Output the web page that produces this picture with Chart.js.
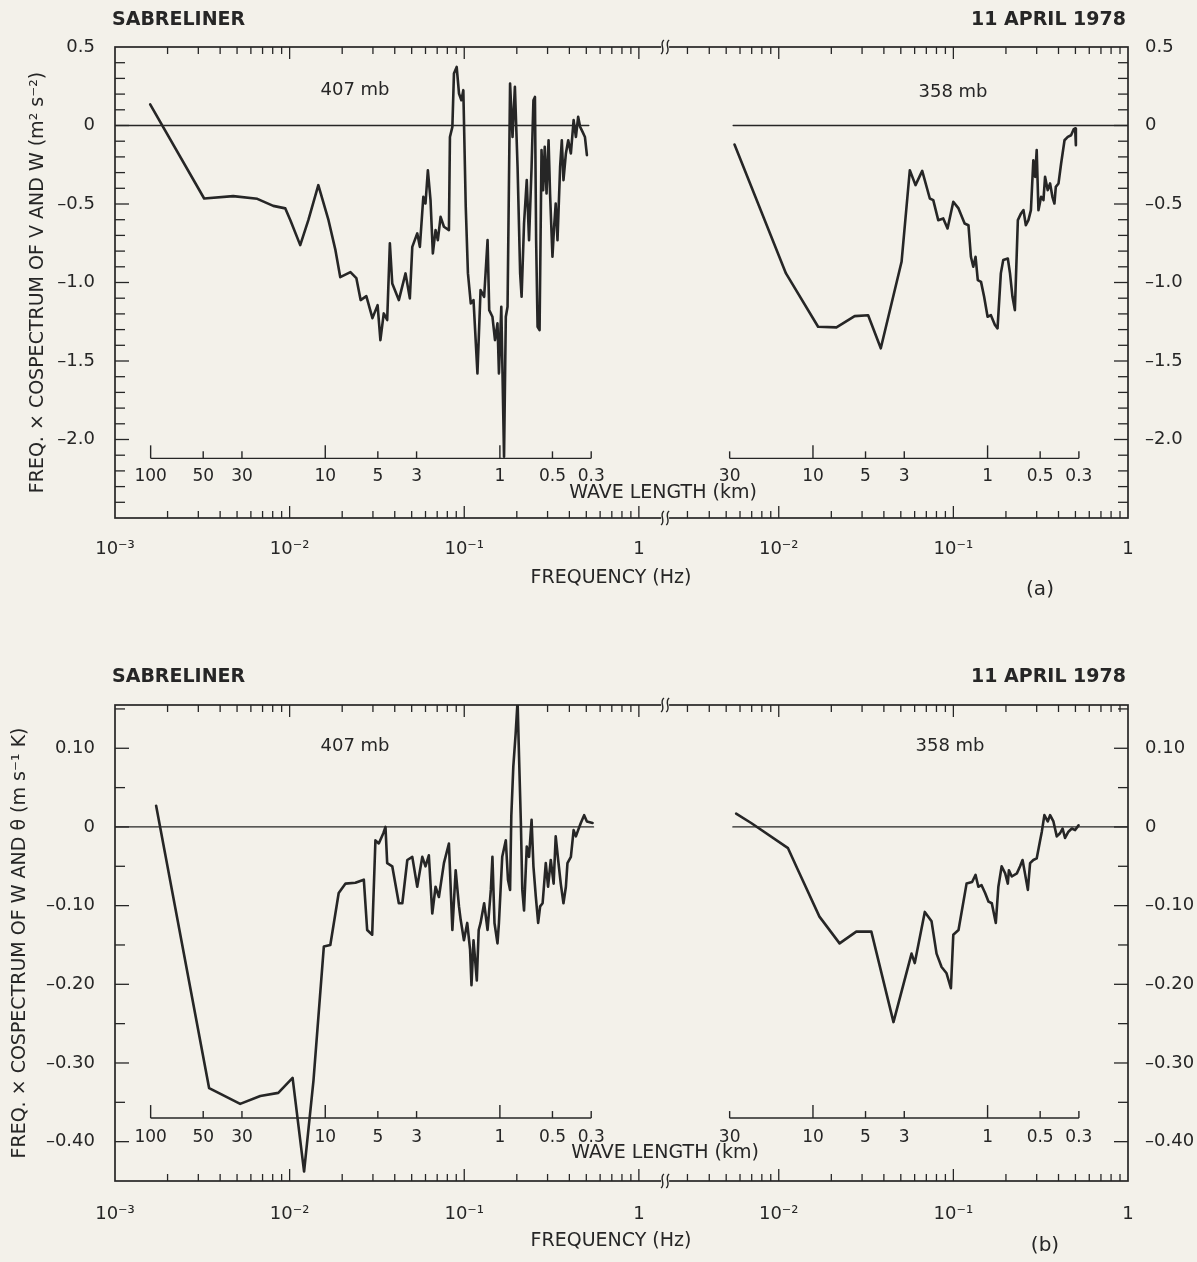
<!DOCTYPE html>
<html><head><meta charset="utf-8">
<script src="https://cdn.jsdelivr.net/npm/chart.js@4.4.1/dist/chart.umd.min.js"></script>
<style>
html,body{margin:0;padding:0;background:#f3f1ea;}
#wrap{position:relative;width:1197px;height:1262px;overflow:hidden;}
canvas{position:absolute;left:0;}
#ca{top:0}#cb{top:631px}
</style></head><body>
<div id="wrap"><canvas id="ca" width="1197" height="631"></canvas><canvas id="cb" width="1197" height="631"></canvas></div>
<script>
// ---------- DATA ----------
// Panel (a): cospectrum of V and W, 407 mb (left) and 358 mb (right); x = frequency (Hz)
const freqA407 = [0.00159,0.00324,0.00475,0.00653,0.00806,0.00945,0.0101,0.0115,0.0128,0.0146,0.0167,0.0183,0.0195,0.0223,0.0241,0.0255,0.0275,0.0298,0.0319,0.0331,0.0346,0.0362,0.0375,0.0387,0.0422,0.0461,0.0488,0.0504,0.0538,0.0557,0.0583,0.0600,0.0619,0.0641,0.0661,0.0685,0.0706,0.0732,0.0765,0.0817,0.0828,0.0855,0.0873,0.0905,0.0933,0.0963,0.0988,0.102,0.105,0.109,0.113,0.119,0.124,0.130,0.136,0.139,0.145,0.150,0.155,0.158,0.163,0.169,0.173,0.177,0.183,0.189,0.195,0.202,0.209,0.213,0.220,0.228,0.235,0.243,0.249,0.254,0.258,0.263,0.270,0.277,0.283,0.289,0.296,0.304,0.310,0.320,0.327,0.334,0.342,0.354,0.362,0.370,0.382,0.394,0.408,0.423,0.436,0.449,0.461,0.476,0.491,0.504];
const valA407 = [0.134,-0.465,-0.450,-0.467,-0.512,-0.528,-0.603,-0.762,-0.603,-0.380,-0.603,-0.794,-0.966,-0.934,-0.972,-1.112,-1.087,-1.227,-1.144,-1.367,-1.197,-1.239,-0.751,-1.006,-1.112,-0.942,-1.101,-0.773,-0.687,-0.773,-0.454,-0.497,-0.285,-0.475,-0.815,-0.666,-0.730,-0.582,-0.645,-0.666,-0.073,-0.009,0.331,0.373,0.204,0.161,0.225,-0.518,-0.942,-1.133,-1.112,-1.579,-1.048,-1.091,-0.730,-1.176,-1.218,-1.367,-1.260,-1.579,-1.155,-2.110,-1.218,-1.155,0.267,-0.073,0.246,-0.264,-0.942,-1.091,-0.624,-0.348,-0.730,-0.264,0.161,0.182,-0.730,-1.282,-1.303,-0.157,-0.412,-0.136,-0.433,-0.094,-0.433,-0.836,-0.645,-0.497,-0.730,-0.264,-0.094,-0.348,-0.178,-0.094,-0.178,0.034,-0.073,0.055,-0.009,-0.041,-0.073,-0.189];
const freqA358 = [0.00558,0.0110,0.0168,0.0214,0.0272,0.0325,0.0384,0.0505,0.0563,0.0607,0.0663,0.0733,0.0767,0.0819,0.0875,0.0926,0.0999,0.107,0.116,0.122,0.126,0.130,0.134,0.138,0.144,0.150,0.157,0.164,0.173,0.179,0.187,0.193,0.205,0.211,0.218,0.225,0.234,0.244,0.252,0.260,0.269,0.278,0.287,0.294,0.300,0.307,0.318,0.328,0.335,0.347,0.358,0.369,0.379,0.386,0.400,0.414,0.433,0.452,0.472,0.488,0.498,0.503];
const valA358 = [-0.121,-0.942,-1.282,-1.286,-1.214,-1.209,-1.419,-0.868,-0.285,-0.380,-0.289,-0.465,-0.475,-0.603,-0.592,-0.656,-0.486,-0.528,-0.624,-0.635,-0.836,-0.900,-0.836,-0.985,-0.996,-1.091,-1.218,-1.208,-1.271,-1.292,-0.942,-0.857,-0.847,-0.942,-1.091,-1.176,-0.603,-0.560,-0.539,-0.635,-0.603,-0.539,-0.221,-0.327,-0.157,-0.539,-0.454,-0.475,-0.327,-0.412,-0.369,-0.454,-0.497,-0.391,-0.369,-0.242,-0.094,-0.073,-0.062,-0.025,-0.019,-0.125];
// Panel (b): cospectrum of W and theta
const freqB407 = [0.00172,0.00346,0.00521,0.00679,0.00861,0.0104,0.0121,0.0137,0.0157,0.0171,0.0191,0.0209,0.0238,0.0266,0.0278,0.0297,0.0310,0.0324,0.0344,0.0354,0.0362,0.0387,0.0422,0.0442,0.0472,0.0504,0.0538,0.0575,0.0600,0.0627,0.0656,0.0685,0.0716,0.0765,0.0817,0.0855,0.0893,0.0933,0.0954,0.0996,0.104,0.108,0.110,0.113,0.118,0.121,0.124,0.130,0.136,0.142,0.145,0.149,0.155,0.158,0.165,0.173,0.178,0.183,0.186,0.191,0.197,0.202,0.206,0.211,0.215,0.220,0.228,0.235,0.243,0.249,0.257,0.265,0.272,0.281,0.293,0.302,0.313,0.325,0.334,0.345,0.357,0.370,0.382,0.390,0.408,0.423,0.436,0.449,0.465,0.486,0.504,0.543];
const valB407 = [0.027,-0.332,-0.352,-0.342,-0.338,-0.319,-0.438,-0.322,-0.152,-0.150,-0.084,-0.072,-0.071,-0.067,-0.131,-0.137,-0.017,-0.021,-0.008,0.000,-0.046,-0.050,-0.097,-0.097,-0.042,-0.038,-0.076,-0.038,-0.050,-0.036,-0.110,-0.076,-0.089,-0.046,-0.021,-0.131,-0.055,-0.101,-0.118,-0.144,-0.122,-0.156,-0.201,-0.144,-0.195,-0.131,-0.122,-0.097,-0.131,-0.080,-0.038,-0.122,-0.148,-0.122,-0.038,-0.017,-0.067,-0.080,0.014,0.077,0.119,0.160,0.089,0.005,-0.080,-0.106,-0.025,-0.038,0.009,-0.050,-0.089,-0.122,-0.101,-0.097,-0.046,-0.076,-0.042,-0.072,-0.012,-0.042,-0.072,-0.097,-0.076,-0.046,-0.038,-0.004,-0.012,-0.004,0.005,0.015,0.007,0.005];
const freqB358 = [0.00570,0.00695,0.0113,0.0129,0.0171,0.0223,0.0278,0.0339,0.0454,0.0576,0.0601,0.0686,0.0750,0.0801,0.0856,0.0914,0.0968,0.0999,0.107,0.119,0.128,0.134,0.139,0.145,0.152,0.159,0.166,0.175,0.181,0.189,0.198,0.205,0.208,0.216,0.231,0.241,0.249,0.257,0.267,0.275,0.287,0.300,0.314,0.321,0.332,0.347,0.358,0.374,0.391,0.408,0.422,0.436,0.456,0.477,0.498,0.521];
const valB358 = [0.017,0.005,-0.027,-0.055,-0.114,-0.148,-0.133,-0.133,-0.248,-0.161,-0.173,-0.108,-0.120,-0.161,-0.178,-0.186,-0.205,-0.137,-0.131,-0.072,-0.070,-0.061,-0.076,-0.074,-0.084,-0.095,-0.097,-0.122,-0.076,-0.050,-0.059,-0.072,-0.055,-0.063,-0.059,-0.050,-0.042,-0.059,-0.080,-0.046,-0.042,-0.040,-0.017,-0.006,0.015,0.007,0.015,0.007,-0.012,-0.008,-0.002,-0.014,-0.006,-0.002,-0.004,0.002];
// zero reference lines (frequency extents)
const zeroA407 = [0.001, 0.517];
const zeroA358 = [0.00548, 1];
const zeroB407 = [0.001, 0.55];
const zeroB358 = [0.00546, 1];
// axis ranges and tick labels
const freqRange407 = [0.001, 1.413];
const freqRange358 = [0.002234, 1];
const freqTicks407 = [0.001, 0.01, 0.1, 1];
const freqTicks358 = [0.01, 0.1, 1];
const waveTicks407 = [100, 50, 30, 10, 5, 3, 1, 0.5, 0.3];
const waveTicks358 = [30, 10, 5, 3, 1, 0.5, 0.3];
const airspeed407 = 160; // m/s, converts wavelength to frequency
const airspeed358 = 157;
const yTicksA = [0.5, 0, -0.5, -1.0, -1.5, -2.0];
const yTicksB = [0.10, 0, -0.10, -0.20, -0.30, -0.40];

// ---------- DRAWING ----------
const INK = '#262626';
const BG = '#f3f1ea';
const FONT = '"DejaVu Sans", sans-serif';
const SUP = {'-':'\u207B','1':'\u00B9','2':'\u00B2','3':'\u00B3'};
function freqLabel(v){
  if (Math.abs(v - 1) < 1e-9) return '1';
  const e = Math.round(Math.log10(v));
  return '10' + String(e).split('').map(c => SUP[c]).join('');
}
const DASH = '\u2013';

const decor = {
  id: 'decor',
  afterDraw(chart) {
    const o = chart.options.plugins.decor;
    const {ctx, chartArea: ca, scales} = chart;
    const ys = scales.y;
    const seg = (x1,y1,x2,y2) => { ctx.beginPath(); ctx.moveTo(x1,y1); ctx.lineTo(x2,y2); ctx.stroke(); };
    ctx.save();
    ctx.strokeStyle = INK; ctx.fillStyle = INK;
    ctx.lineWidth = 1.7;
    ctx.strokeRect(ca.left, ca.top, ca.right - ca.left, ca.bottom - ca.top);
    ctx.lineWidth = 1.3;
    // log frequency ticks, inward, top and bottom
    ['xL','xR'].forEach(id => {
      const s = scales[id];
      for (let e = -3; e <= 0; e++) for (let m = 1; m <= 9; m++) {
        const x = s.getPixelForValue(m * Math.pow(10, e));
        if (x < s.left + 3 || x > s.right - 3) continue;
        const len = m === 1 ? 12 : 7;
        seg(x, ca.top, x, ca.top + len);
        seg(x, ca.bottom, x, ca.bottom - len);
      }
    });
    // y ticks, inward, left and right
    const k0 = Math.ceil(o.yMin / o.yMinor - 1e-6), k1 = Math.floor(o.yMax / o.yMinor + 1e-6);
    for (let k = k0; k <= k1; k++) {
      const v = k * o.yMinor;
      const py = ys.getPixelForValue(v);
      if (py < ca.top + 2 || py > ca.bottom - 2) continue;
      const r = v / o.yMajor;
      const len = Math.abs(r - Math.round(r)) < 1e-6 ? 14 : 10;
      seg(ca.left, py, ca.left + len, py);
      seg(ca.right, py, ca.right - len, py);
    }
    // wavelength axes
    o.wave.forEach(w => {
      const s = scales[w.scale];
      const py = ys.getPixelForValue(o.waveY);
      const xs = w.ticks.map(l => s.getPixelForValue(w.tas / (l * 1000)));
      ctx.lineWidth = 1.4;
      seg(Math.min(...xs), py, Math.max(...xs), py);
      ctx.font = '17px ' + FONT; ctx.textAlign = 'center'; ctx.textBaseline = 'middle';
      w.ticks.forEach((l, i) => {
        const major = (l === 100 || l === 10 || l === 1);
        seg(xs[i], py, xs[i], py - (major ? 13 : 7));
        ctx.fillText(String(l), xs[i], py + o.waveDy);
      });
    });
    // axis break marks
    const bx = scales.xL.right;
    [ca.top, ca.bottom].forEach(by => {
      ctx.fillStyle = BG; ctx.fillRect(bx - 4, by - 2.5, 8, 5);
      ctx.lineWidth = 1.4;
      [-2.6, 2.6].forEach(dx => {
        ctx.beginPath();
        ctx.moveTo(bx + dx + 1.5, by - 7);
        ctx.bezierCurveTo(bx + dx - 4, by - 3, bx + dx + 4, by + 3, bx + dx - 1.5, by + 7);
        ctx.stroke();
      });
    });
    // texts
    ctx.fillStyle = INK;
    o.texts.forEach(t => {
      ctx.font = t.font; ctx.textAlign = t.align || 'center'; ctx.textBaseline = 'middle';
      ctx.fillText(t.text, t.x, t.y);
    });
    ctx.restore();
  }
};

function series(fr, vals, axis, width) {
  return {
    data: fr.map((f, i) => ({x: f, y: vals[i]})),
    xAxisID: axis, yAxisID: 'y', showLine: true, pointRadius: 0,
    borderColor: INK, borderWidth: width, borderJoinStyle: 'round', borderCapStyle: 'round'
  };
}

function makePanel(id, P) {
  const tickFont = {family: FONT, size: 18};
  const wL = Math.log10(freqRange407[1] / freqRange407[0]);
  const wR = Math.log10(freqRange358[1] / freqRange358[0]);
  const yCommon = {
    type: 'linear', min: P.yMin, max: P.yMax,
    grid: {display: false}, border: {display: false},
    afterBuildTicks: s => { s.ticks = P.yTicks.map(v => ({value: v})); },
  };
  new Chart(document.getElementById(id), {
    type: 'scatter',
    data: {datasets: [
      series(P.f407, P.v407, 'xL', 2.6),
      series(P.f358, P.v358, 'xR', 2.6),
      series(P.z407, [0, 0], 'xL', 1.3),
      series(P.z358, [0, 0], 'xR', 1.3),
    ]},
    options: {
      responsive: false, animation: false, events: [],
      layout: {padding: {top: P.top, left: 0, right: 0, bottom: 0}},
      plugins: {
        legend: {display: false}, tooltip: {enabled: false},
        decor: {
          yMin: P.yMin, yMax: P.yMax, yMinor: P.yMinor, yMajor: P.yMajor,
          waveY: P.waveY, waveDy: P.waveDy,
          wave: [
            {scale: 'xL', tas: airspeed407, ticks: waveTicks407},
            {scale: 'xR', tas: airspeed358, ticks: waveTicks358}
          ],
          texts: P.texts
        }
      },
      scales: {
        xL: {
          type: 'logarithmic', axis: 'x', position: 'bottom', stack: 'freq', stackWeight: wL,
          min: freqRange407[0], max: freqRange407[1],
          grid: {display: false}, border: {display: false},
          afterFit: s => { s.height = P.bottomH; },
          afterBuildTicks: s => { s.ticks = freqTicks407.map(v => ({value: v})); },
          ticks: {autoSkip: false, maxRotation: 0, padding: P.xPad, font: tickFont, color: INK, callback: v => freqLabel(v)}
        },
        xR: {
          type: 'logarithmic', axis: 'x', position: 'bottom', stack: 'freq', stackWeight: wR,
          min: freqRange358[0], max: freqRange358[1],
          grid: {display: false}, border: {display: false},
          afterFit: s => { s.height = P.bottomH; },
          afterBuildTicks: s => { s.ticks = freqTicks358.map(v => ({value: v})); },
          ticks: {autoSkip: false, maxRotation: 0, padding: P.xPad, font: tickFont, color: INK, callback: v => freqLabel(v)}
        },
        y: Object.assign({}, yCommon, {
          axis: 'y', position: 'left',
          afterFit: s => { s.width = 115; },
          ticks: {padding: 12, font: tickFont, color: INK, callback: P.yFmt},
          title: {display: true, text: P.yTitle, color: INK, font: {family: FONT, size: 19}, padding: {top: P.titlePad, bottom: 0}}
        }),
        y2: Object.assign({}, yCommon, {
          axis: 'y', position: 'right',
          afterFit: s => { s.width = 69; },
          ticks: {padding: 9, font: tickFont, color: INK, callback: P.yFmt}
        })
      }
    },
    plugins: [decor]
  });
}

const bold = 'bold 19px ' + FONT, lab = '19px ' + FONT, mb = '18px ' + FONT;

makePanel('ca', {
  f407: freqA407, v407: valA407, f358: freqA358, v358: valA358, z407: zeroA407, z358: zeroA358,
  top: 47, bottomH: 113, xPad: 13,
  yMin: -2.5, yMax: 0.5, yTicks: yTicksA, yMinor: 0.1, yMajor: 0.5,
  yFmt: v => v === 0 ? '0' : (v < 0 ? DASH : '') + Math.abs(v).toFixed(1),
  yTitle: 'FREQ. \u00D7 COSPECTRUM OF V AND W (m\u00B2 s\u207B\u00B2)', titlePad: 27,
  waveY: -2.12, waveDy: 18,
  texts: [
    {text: 'SABRELINER', x: 112, y: 20, align: 'left', font: bold},
    {text: '11 APRIL 1978', x: 1126, y: 20, align: 'right', font: bold},
    {text: '407 mb', x: 355, y: 90, font: mb},
    {text: '358 mb', x: 953, y: 92, font: mb},
    {text: 'WAVE LENGTH (km)', x: 663, y: 493, font: lab},
    {text: 'FREQUENCY (Hz)', x: 611, y: 578, font: lab},
    {text: '(a)', x: 1040, y: 590, font: '20px ' + FONT}
  ]
});

makePanel('cb', {
  f407: freqB407, v407: valB407, f358: freqB358, v358: valB358, z407: zeroB407, z358: zeroB358,
  top: 74, bottomH: 81, xPad: 15,
  yMin: -0.45, yMax: 0.155, yTicks: yTicksB, yMinor: 0.05, yMajor: 0.1,
  yFmt: v => v === 0 ? '0' : (v < 0 ? DASH : '') + Math.abs(v).toFixed(2),
  yTitle: 'FREQ. \u00D7 COSPECTRUM OF W AND \u03B8 (m s\u207B\u00B9 K)', titlePad: 9,
  waveY: -0.37, waveDy: 20,
  texts: [
    {text: 'SABRELINER', x: 112, y: 46, align: 'left', font: bold},
    {text: '11 APRIL 1978', x: 1126, y: 46, align: 'right', font: bold},
    {text: '407 mb', x: 355, y: 115, font: mb},
    {text: '358 mb', x: 950, y: 115, font: mb},
    {text: 'WAVE LENGTH (km)', x: 665, y: 522, font: lab},
    {text: 'FREQUENCY (Hz)', x: 611, y: 610, font: lab},
    {text: '(b)', x: 1045, y: 615, font: '20px ' + FONT}
  ]
});
</script>
</body></html>
